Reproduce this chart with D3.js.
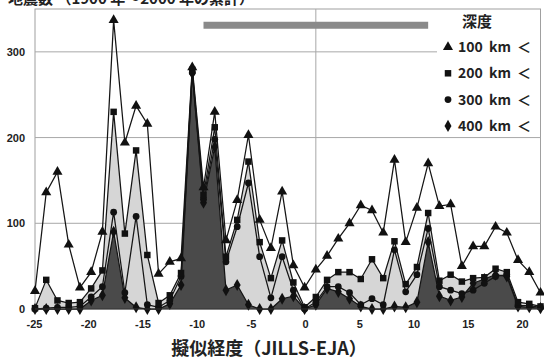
<!DOCTYPE html>
<html>
<head>
<meta charset="utf-8">
<script src="https://cdn.jsdelivr.net/npm/d3@7"></script>
<style>
body { margin: 0; background: #fff; }
text { font-family: "Noto Sans CJK JP", "Noto Sans", sans-serif; }
</style>
</head>
<body>
<svg id="chart" width="544" height="360"></svg>
<script>
// pseudo longitude (JILLS-EJA), one point per degree
const longitudes = [-25, -24, -23, -22, -21, -20, -19, -18, -17, -16, -15, -14, -13, -12, -11, -10, -9, -8, -7, -6, -5, -4, -3, -2, -1,
    0, 1, 2, 3, 4, 5, 6, 7, 8, 9, 10, 11, 12, 13, 14, 15, 16, 17, 18, 19, 20];

// counts deeper than 100 / 200 / 300 / 400 km
const deeper100 = [21, 136, 160, 75, 25, 43, 90, 337, 194, 237, 216, 41, 55, 59, 282, 142, 230, 80, 127, 203, 104, 71, 137, 51, 25,
    46, 62, 82, 100, 121, 115, 89, 174, 78, 118, 170, 120, 122, 50, 73, 73, 96, 89, 57, 43, 19];
const deeper200 = [1, 34, 10, 7, 8, 24, 45, 230, 88, 185, 63, 7, 16, 42, 279, 133, 212, 61, 104, 172, 78, 36, 80, 31, 2,
    14, 34, 43, 43, 35, 58, 36, 79, 29, 49, 112, 33, 40, 32, 36, 37, 47, 43, 8, 6, 3];
const deeper300 = [0, 1, 2, 2, 3, 14, 26, 113, 19, 108, 5, 2, 10, 38, 276, 128, 198, 55, 96, 147, 61, 13, 61, 22, 0,
    8, 26, 26, 19, 5, 12, 5, 69, 20, 40, 94, 26, 22, 18, 22, 30, 38, 40, 4, 4, 2];
const deeper400 = [0, 0, 0, 0, 0, 10, 16, 90, 13, 2, 0, 0, 6, 28, 275, 124, 189, 22, 28, 5, 0, 0, 12, 15, 0,
    5, 24, 20, 12, 3, 0, 0, 3, 2, 8, 78, 15, 10, 14, 30, 35, 40, 38, 3, 2, 1];

const seriesNames = ["100 km ＜", "200 km ＜", "300 km ＜", "400 km ＜"];
const yTicks = [0, 100, 200, 300];
const xTicks = [-25, -20, -15, -10, -5, 0, 5, 10, 15, 20];
const barRange = [-10, 10];   // grey band at the top
const barLevel = 331;

const svg = d3.select("#chart");

const x = d3.scaleLinear().domain([-25, 20]).range([35, 540.5]);
const xLabel = d3.scaleLinear().domain([-25, 20]).range([34, 522]);
const y = d3.scaleLinear().domain([0, 350]).range([309, 9]);

// title (cut off at the top in the source)
svg.append("text")
    .attr("x", 8).attr("y", 4)
    .attr("font-size", 15).attr("font-weight", "bold").attr("fill", "#222")
    .text("地震数 （1900 年～2000 年の累計）");

// plot frame
svg.append("rect")
    .attr("x", x(-25)).attr("y", y(350))
    .attr("width", x(20) - x(-25)).attr("height", y(0) - y(350))
    .attr("fill", "none").attr("stroke", "#a0a0a0");

// grid
svg.append("g").selectAll("line")
    .data(yTicks.slice(1))
    .join("line")
    .attr("x1", x(-25)).attr("x2", x(20))
    .attr("y1", d => y(d)).attr("y2", d => y(d))
    .attr("stroke", "#a8a8a8");
svg.append("line")
    .attr("x1", x(0)).attr("x2", x(0))
    .attr("y1", y(350)).attr("y2", y(0))
    .attr("stroke", "#a8a8a8");

const rows = longitudes.map((lon, i) => ({
    lon: lon, v: [deeper100[i], deeper200[i], deeper300[i], deeper400[i]]
}));

// filled areas
const area = k => d3.area()
    .x(d => x(d.lon)).y0(y(0)).y1(d => y(d.v[k]));
svg.append("path").datum(rows).attr("d", area(1)).attr("fill", "#d6d6d6");
svg.append("path").datum(rows).attr("d", area(3)).attr("fill", "#4a4a4a");

// lines
const symbols = [d3.symbolTriangle, d3.symbolSquare, d3.symbolCircle, d3.symbolDiamond];
const symbolSize = [44, 42, 36, 42];
for (let k = 0; k < 4; k++) {
    svg.append("path").datum(rows)
        .attr("d", d3.line().x(d => x(d.lon)).y(d => y(d.v[k])))
        .attr("fill", "none").attr("stroke", "#151515").attr("stroke-width", 1.25);
}
for (let k = 3; k >= 0; k--) {
    svg.append("g").selectAll("path")
        .data(rows)
        .join("path")
        .attr("transform", d => `translate(${x(d.lon)},${y(d.v[k])})`)
        .attr("d", d3.symbol(symbols[k], symbolSize[k]))
        .attr("fill", "#111");
}

// grey band
svg.append("line")
    .attr("x1", x(barRange[0])).attr("x2", x(barRange[1]))
    .attr("y1", y(barLevel)).attr("y2", y(barLevel))
    .attr("stroke", "#8a8a8a").attr("stroke-width", 7);

// axes
const yAxis = svg.append("g")
    .attr("transform", `translate(${x(-25)},0)`)
    .call(d3.axisLeft(y).tickValues(yTicks).tickSize(0).tickPadding(10));
yAxis.select(".domain").remove();
yAxis.selectAll("text").attr("font-size", 11).attr("font-weight", "bold").attr("fill", "#222")
    .style("font-family", "'Liberation Sans', sans-serif");

svg.append("line")
    .attr("x1", x(-25)).attr("x2", x(20)).attr("y1", y(0)).attr("y2", y(0))
    .attr("stroke", "#333");

const xAxis = svg.append("g")
    .attr("transform", `translate(0,${y(0)})`)
    .call(d3.axisBottom(xLabel).tickValues(xTicks).tickSize(0).tickPadding(11).tickFormat(d => String(d)));
xAxis.select(".domain").remove();
xAxis.selectAll("text").attr("font-size", 11).attr("font-weight", "bold").attr("fill", "#222")
    .style("font-family", "'Liberation Sans', sans-serif");

svg.append("text")
    .attr("x", 269).attr("y", 355)
    .attr("text-anchor", "middle")
    .attr("font-size", 18).attr("font-weight", "bold").attr("fill", "#222")
    .text("擬似経度（JILLS-EJA）");

// legend
const legend = svg.append("g");
legend.append("rect")
    .attr("x", 437).attr("y", 10).attr("width", 103).attr("height", 125)
    .attr("fill", "#fff");
legend.append("text")
    .attr("x", 477).attr("y", 27).attr("text-anchor", "middle")
    .attr("font-size", 15).attr("font-weight", "bold").attr("fill", "#222")
    .text("深度");
const entry = legend.selectAll("g.entry")
    .data(seriesNames)
    .join("g")
    .attr("class", "entry")
    .attr("transform", (d, i) => `translate(448,${47 + i * 26.3})`);
entry.append("path")
    .attr("d", (d, i) => d3.symbol(symbols[i], symbolSize[i])())
    .attr("fill", "#111");
entry.append("text")
    .attr("x", 10).attr("y", 5)
    .attr("font-size", 14).attr("font-weight", "bold").attr("fill", "#222")
    .attr("word-spacing", 3)
    .text(d => d);
</script>
</body>
</html>
